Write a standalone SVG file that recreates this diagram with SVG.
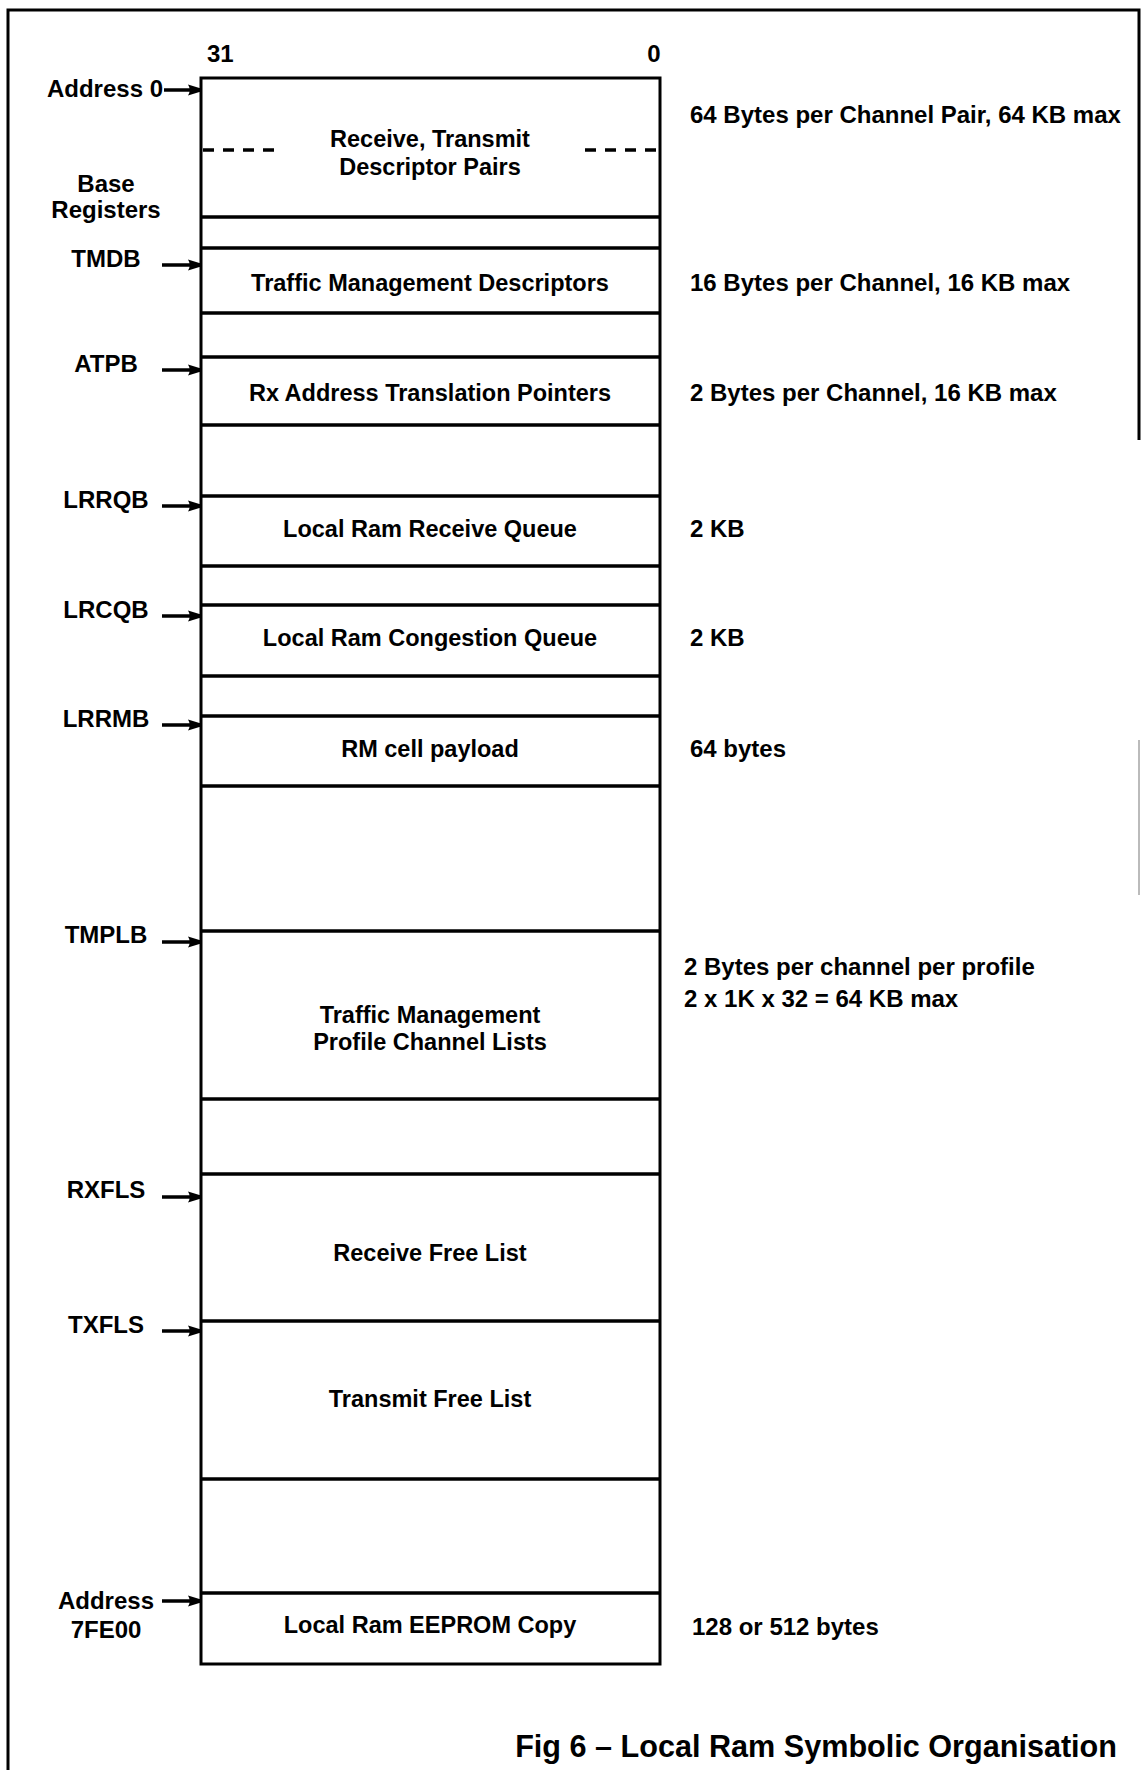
<svg xmlns="http://www.w3.org/2000/svg" width="1143" height="1770" viewBox="0 0 1143 1770">
<style>
  text { font-family: "Liberation Sans", Arial, Helvetica, sans-serif; font-weight: bold; font-size: 24px; fill: #000; }
  .c { text-anchor: middle; }
  .m { font-size: 23.5px; }
  .e { text-anchor: end; }
  .cap { font-size: 30.6px; }
  .frame { fill: none; stroke: #000; stroke-width: 3; }
  .box { fill: none; stroke: #000; stroke-width: 3; }
  .div { stroke: #000; stroke-width: 3.5; }
  .dash { stroke: #000; stroke-width: 3.5; stroke-dasharray: 11 9; }
  .arr { stroke: #000; stroke-width: 3.5; fill: none; marker-end: url(#ah); }
</style>
<defs>
  <marker id="ah" markerWidth="15" markerHeight="14" refX="13" refY="7" orient="auto" markerUnits="userSpaceOnUse">
    <path d="M0,1.5 L13,5.5 L13,8.5 L0,12.5 Q3.5,7 0,1.5 Z" fill="#000"/>
  </marker>
</defs>
<rect width="1143" height="1770" fill="#fff"/>

<g id="frame">
  <path class="frame" d="M8,1770 L8,10 L1139,10 L1139,440"/>
  <line x1="1139" y1="740" x2="1139" y2="895" stroke="#bbb" stroke-width="2"/>
</g>

<g id="bit-labels">
  <text x="207" y="62">31</text>
  <text x="654" y="62" class="c">0</text>
</g>

<g id="memory-box">
  <rect class="box" x="201" y="78" width="459" height="1586"/>
</g>

<g id="descriptor-pairs">
  <text x="430" y="147" class="c m">Receive, Transmit</text>
  <text x="430" y="175" class="c m">Descriptor Pairs</text>
  <line class="dash" x1="203" y1="150" x2="275" y2="150"/>
  <line class="dash" x1="585" y1="150" x2="658" y2="150"/>
  <text x="163" y="97" class="e">Address 0</text>
  <text x="106" y="192" class="c">Base</text>
  <text x="106" y="218" class="c">Registers</text>
  <text x="690" y="123">64 Bytes per Channel Pair, 64 KB max</text>
  <line class="div" x1="201" y1="217" x2="660" y2="217"/>
</g>

<g id="tm-descriptors">
  <line class="div" x1="201" y1="248" x2="660" y2="248"/>
  <text x="106" y="267" class="c">TMDB</text>
  <text x="430" y="291" class="c m">Traffic Management Descriptors</text>
  <text x="690" y="291">16 Bytes per Channel, 16 KB max</text>
  <line class="div" x1="201" y1="313" x2="660" y2="313"/>
</g>

<g id="rx-address-translation">
  <line class="div" x1="201" y1="357" x2="660" y2="357"/>
  <text x="106" y="372" class="c">ATPB</text>
  <text x="430" y="401" class="c m">Rx Address Translation Pointers</text>
  <text x="690" y="401">2 Bytes per Channel, 16 KB max</text>
  <line class="div" x1="201" y1="425" x2="660" y2="425"/>
</g>

<g id="receive-queue">
  <line class="div" x1="201" y1="496" x2="660" y2="496"/>
  <text x="106" y="508" class="c">LRRQB</text>
  <text x="430" y="537" class="c m">Local Ram Receive Queue</text>
  <text x="690" y="537">2 KB</text>
  <line class="div" x1="201" y1="566" x2="660" y2="566"/>
</g>

<g id="congestion-queue">
  <line class="div" x1="201" y1="605" x2="660" y2="605"/>
  <text x="106" y="618" class="c">LRCQB</text>
  <text x="430" y="646" class="c m">Local Ram Congestion Queue</text>
  <text x="690" y="646">2 KB</text>
  <line class="div" x1="201" y1="676" x2="660" y2="676"/>
</g>

<g id="rm-cell-payload">
  <line class="div" x1="201" y1="716" x2="660" y2="716"/>
  <text x="106" y="727" class="c">LRRMB</text>
  <text x="430" y="757" class="c m">RM cell payload</text>
  <text x="690" y="757">64 bytes</text>
  <line class="div" x1="201" y1="786" x2="660" y2="786"/>
</g>

<g id="profile-channel-lists">
  <line class="div" x1="201" y1="931" x2="660" y2="931"/>
  <text x="106" y="943" class="c">TMPLB</text>
  <text x="430" y="1023" class="c m">Traffic Management</text>
  <text x="430" y="1050" class="c m">Profile Channel Lists</text>
  <text x="684" y="975">2 Bytes per channel per profile</text>
  <text x="684" y="1007">2 x 1K x 32 = 64 KB max</text>
  <line class="div" x1="201" y1="1099" x2="660" y2="1099"/>
</g>

<g id="receive-free-list">
  <line class="div" x1="201" y1="1174" x2="660" y2="1174"/>
  <text x="106" y="1198" class="c">RXFLS</text>
  <text x="430" y="1261" class="c m">Receive Free List</text>
</g>

<g id="transmit-free-list">
  <line class="div" x1="201" y1="1321" x2="660" y2="1321"/>
  <text x="106" y="1333" class="c">TXFLS</text>
  <text x="430" y="1407" class="c m">Transmit Free List</text>
  <line class="div" x1="201" y1="1479" x2="660" y2="1479"/>
</g>

<g id="eeprom-copy">
  <line class="div" x1="201" y1="1593" x2="660" y2="1593"/>
  <text x="106" y="1609" class="c">Address</text>
  <text x="106" y="1638" class="c">7FE00</text>
  <text x="430" y="1633" class="c m">Local Ram EEPROM Copy</text>
  <text x="692" y="1635">128 or 512 bytes</text>
</g>

<g id="connectors">
  <line class="arr" x1="164" y1="90" x2="201" y2="90"/>
  <line class="arr" x1="162" y1="265" x2="201" y2="265"/>
  <line class="arr" x1="162" y1="370" x2="201" y2="370"/>
  <line class="arr" x1="162" y1="506" x2="201" y2="506"/>
  <line class="arr" x1="162" y1="616" x2="201" y2="616"/>
  <line class="arr" x1="162" y1="725" x2="201" y2="725"/>
  <line class="arr" x1="162" y1="942" x2="201" y2="942"/>
  <line class="arr" x1="162" y1="1197" x2="201" y2="1197"/>
  <line class="arr" x1="162" y1="1331" x2="201" y2="1331"/>
  <line class="arr" x1="162" y1="1601" x2="201" y2="1601"/>
</g>

<g id="caption">
  <text x="1117" y="1757" class="e cap">Fig 6 – Local Ram Symbolic Organisation</text>
</g>
</svg>
